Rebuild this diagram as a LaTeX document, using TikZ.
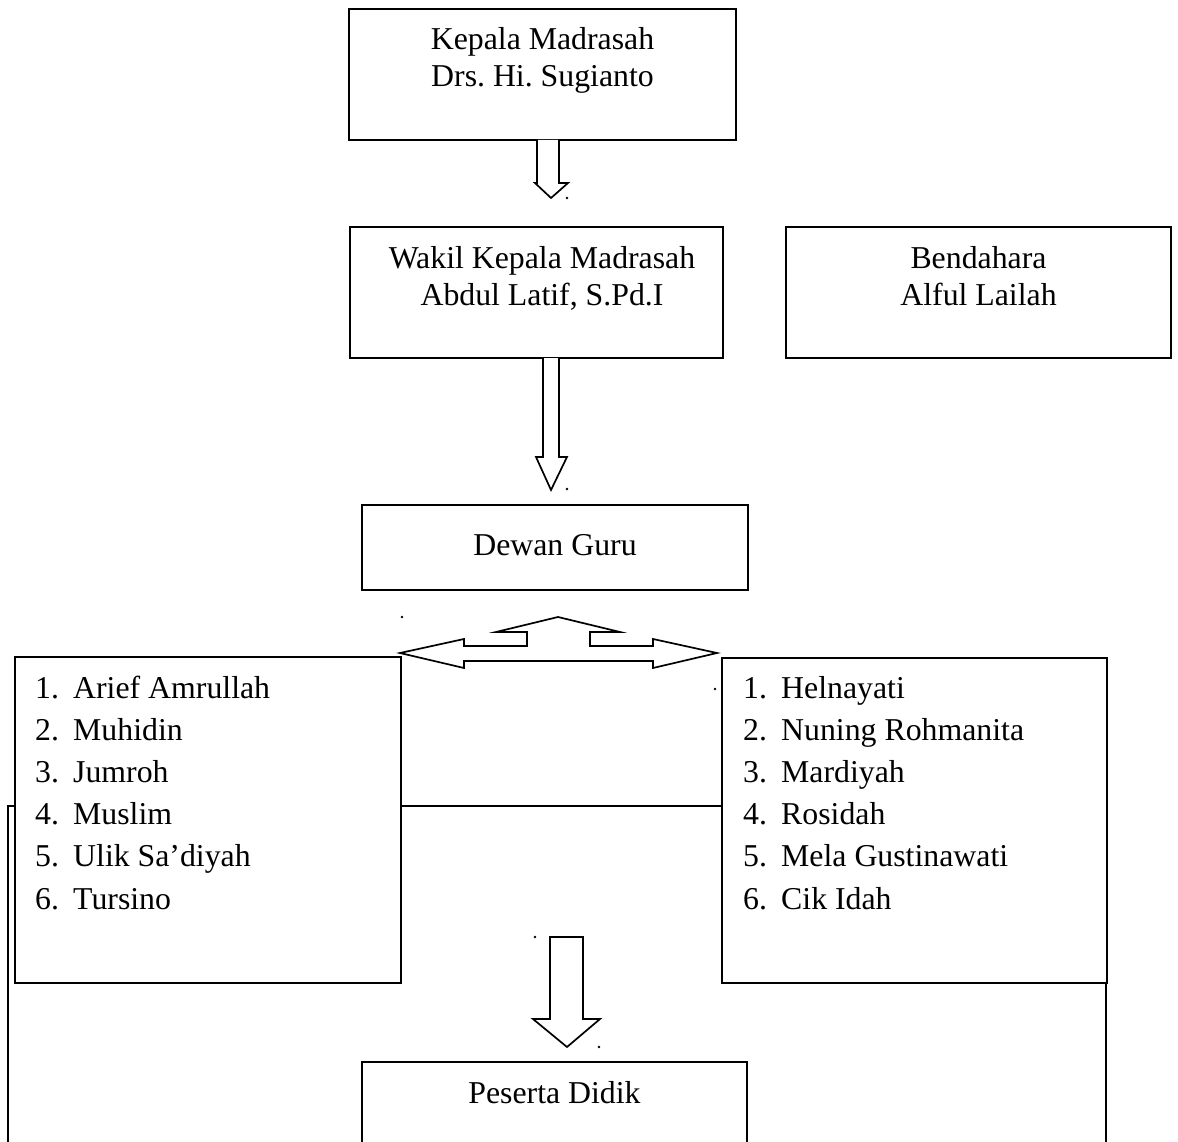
\documentclass[tikz,border=0pt]{standalone}
\usepackage{fontspec}
\setmainfont{Liberation Serif}
\frenchspacing
\begin{document}
\begin{tikzpicture}[x=1pt,y=-1pt,
  box/.style={draw=black,line width=1.7pt,rectangle,inner sep=0pt,outer sep=0pt},
  lbl/.style={anchor=base,inner sep=0pt,font=\fontsize{31.8}{37}\selectfont},
  item/.style={anchor=base west,inner sep=0pt,font=\fontsize{31.8}{37}\selectfont},
  blockarrow/.style={draw=black,line width=1.7pt,fill=white,line join=miter},
  link/.style={draw=black,line width=1.7pt},
  dotmark/.style={circle,fill=black,inner sep=0pt,minimum size=2.8pt}]
\clip (0,0) rectangle (1178,1142);
\useasboundingbox (0,0) rectangle (1178,1142);
\fill[white] (0,0) rectangle (1178,1142);

% boxes
\node[box,minimum width=387pt,minimum height=131pt] (kepala) at (542.5,74.5) {};
\node[box,minimum width=373pt,minimum height=131pt] (wakil) at (536.5,292.5) {};
\node[box,minimum width=385pt,minimum height=131pt] (bendahara) at (978.5,292.5) {};
\node[box,minimum width=386pt,minimum height=85pt] (dewan) at (555,547.5) {};
\node[box,minimum width=386pt,minimum height=326pt] (llist) at (208,820) {};
\node[box,minimum width=385pt,minimum height=325pt] (rlist) at (914.5,820.5) {};
\node[box,minimum width=385pt,minimum height=100pt] (peserta) at (554.5,1112) {};

% box titles
\node[lbl] (kepala-a) at (542.5,50) {Kepala Madrasah};
\node[lbl] (kepala-b) at (542.5,87) {Drs. Hi. Sugianto};
\node[lbl] (wakil-a) at (542,268) {Wakil Kepala Madrasah};
\node[lbl] (wakil-b) at (542,305) {Abdul Latif, S.Pd.I};
\node[lbl] (bendahara-a) at (978.5,268) {Bendahara};
\node[lbl] (bendahara-b) at (978.5,305) {Alful Lailah};
\node[lbl] (dewan-a) at (555,555) {Dewan Guru};
\node[lbl] (peserta-a) at (554.5,1103) {Peserta Didik};

% teacher lists
\foreach \n [count=\k] in {Arief Amrullah,Muhidin,Jumroh,Muslim,Ulik Sa’diyah,Tursino}{
  \node[item] (lnum\k) at (35,{698+42.2*(\k-1)}) {\k.};
  \node[item] (lname\k) at (73,{698+42.2*(\k-1)}) {\n};
}
\foreach \n [count=\k] in {Helnayati,Nuning Rohmanita,Mardiyah,Rosidah,Mela Gustinawati,Cik Idah}{
  \node[item] (rnum\k) at (743,{698+42.2*(\k-1)}) {\k.};
  \node[item] (rname\k) at (781,{698+42.2*(\k-1)}) {\n};
}

% block arrows
\draw[blockarrow] (537,140) -- (537,183) -- (535,183) -- (551,198) -- (568,183) -- (559,183) -- (559,140);
\draw[blockarrow] (543,358) -- (543,457) -- (536,457) -- (551,490) -- (567,457) -- (559,457) -- (559,358);
\draw[blockarrow] (550,937) -- (550,1019) -- (533,1019) -- (567,1047) -- (600,1019) -- (583,1019) -- (583,937) -- cycle;
\draw[blockarrow] (400,653) -- (464,639) -- (464,646) -- (527,646) -- (527,632) -- (496,632)
  -- (558,617) -- (620,632) -- (590,632) -- (590,646) -- (653,646) -- (653,639) -- (717,653)
  -- (653,668) -- (653,661) -- (464,661) -- (464,668) -- cycle;

% connecting lines
\coordinate (midrow) at (0,806);
\coordinate (leftrail) at (8,806);
\coordinate (pagefoot) at (0,1150);
\draw[link] (llist.east |- midrow) -- (rlist.west |- midrow);
\draw[link] (llist.west |- midrow) -- (leftrail) -- (leftrail |- pagefoot);
\draw[link] ([xshift=-1pt]rlist.south east) -- ([xshift=-1pt]rlist.south east |- pagefoot);

% stray marks
\node[dotmark] (m1) at (567,198) {};
\node[dotmark] (m2) at (567,489) {};
\node[dotmark] (m3) at (402,617) {};
\node[dotmark] (m4) at (715,689) {};
\node[dotmark] (m5) at (535,937) {};
\node[dotmark] (m6) at (599,1047) {};
\end{tikzpicture}
\end{document}
